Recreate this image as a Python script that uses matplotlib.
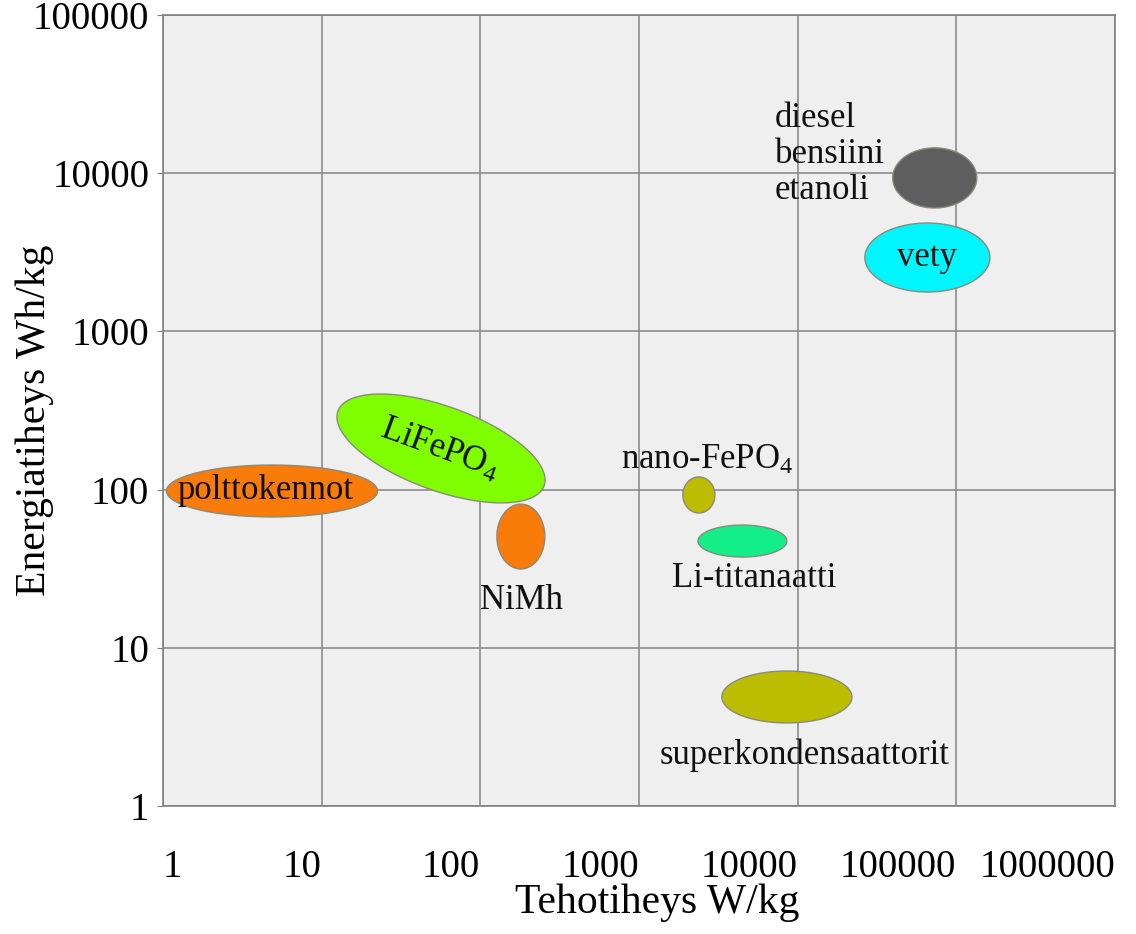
import matplotlib
matplotlib.use('Agg')
import matplotlib.pyplot as plt
import numpy as np

plt.rcParams['font.family'] = ['Liberation Serif', 'DejaVu Serif']
plt.rcParams['mathtext.fontset'] = 'custom'
plt.rcParams['mathtext.rm'] = 'Liberation Serif'
plt.rcParams['mathtext.default'] = 'regular'

# ellipse data: centre (W/kg, Wh/kg), half widths in decades, tilt in degrees
names = ['polttokennot', 'LiFePO4', 'NiMh', 'nano-FePO4', 'Li-titanaatti',
         'superkondensaattorit', 'diesel', 'vety']
center_x = [4.86, 56.5, 180, 2385, 4485, 8550, 73100, 65700]
center_y = [98, 182, 50.5, 92.5, 47.3, 4.89, 9330, 2930]
half_w = [0.665, 0.691, 0.151, 0.101, 0.280, 0.410, 0.265, 0.394]
half_h = [0.164, 0.266, 0.205, 0.114, 0.101, 0.164, 0.190, 0.218]
tilt = [0, -20, 0, 0, 0, 0, 0, 0]
colors = ['#F97C0A', '#7FFF00', '#F97C0A', '#BDBD00', '#14EE88',
          '#BDBD00', '#5E5E5E', '#00F6FF']

# label texts and where they sit
label_text = ['polttokennot', 'LiFePO$_4$', 'NiMh', 'nano-FePO$_4$', 'Li-titanaatti',
              'superkondensaattorit', 'diesel\nbensiini\netanoli', 'vety']
label_x = [4.46, 55.6, 183, 2680, 5300, 11100, 7180, 65200]
label_y = [98, 178, 20, 154, 27.6, 2.1, 13030, 2910]
label_rot = [0, -20, 0, 0, 0, 0, 0, 0]
label_ha = ['center', 'center', 'center', 'center', 'center', 'center', 'left', 'center']

ticks = [1, 10, 100, 1000, 10000, 100000, 1000000]
tick_labels = ['1', '10', '100', '1000', '10000', '100000', '1000000']
yticks = [1, 10, 100, 1000, 10000, 100000]
ytick_labels = ['1', '10', '100', '1000', '10000', '100000']

fig = plt.figure(figsize=(11.36, 9.34), dpi=100)
ax = fig.add_axes([0.1435, 0.137, 0.838, 0.847])
ax.set_facecolor('#EFEFEF')
ax.set_xscale('log')
ax.set_yscale('log')
ax.set_xlim(1, 1e6)
ax.set_ylim(1, 1e5)

t = np.linspace(0, 2 * np.pi, 200)
for i in range(len(names)):
    th = np.radians(tilt[i])
    u = half_w[i] * np.cos(t)
    v = half_h[i] * np.sin(t)
    lx = np.log10(center_x[i]) + u * np.cos(th) - v * np.sin(th)
    ly = np.log10(center_y[i]) + u * np.sin(th) + v * np.cos(th)
    ax.fill(10 ** lx, 10 ** ly, facecolor=colors[i], edgecolor='#8a8a7a',
            linewidth=1, zorder=3)

for i in range(len(label_text)):
    ax.text(label_x[i], label_y[i], label_text[i], fontsize=25, ha=label_ha[i],
            va='center', rotation=label_rot[i], rotation_mode='anchor',
            linespacing=1.12, zorder=4, color='#111111')

ax.set_xticks(ticks)
ax.set_xticklabels(tick_labels, fontsize=28)
ax.set_yticks(yticks)
ax.set_yticklabels(ytick_labels, fontsize=28)
ax.minorticks_off()
for i, lab in enumerate(ax.get_xticklabels()):
    lab.set_horizontalalignment('left' if i == 0 else 'right')
ax.tick_params(axis='x', length=0, pad=31)
ax.tick_params(axis='y', length=4, pad=6, color='#808080')

ax.grid(True, color='#8C8C8C', linewidth=1.2, zorder=1)
ax.set_axisbelow(True)
for s in ax.spines.values():
    s.set_color('#808080')
    s.set_linewidth(1.2)

fig.text(657 / 1136, 1 - 903 / 934, 'Tehotiheys W/kg', fontsize=30,
         ha='center', va='center')
fig.text(35 / 1136, 1 - 420 / 934, 'Energiatiheys Wh/kg', fontsize=30,
         ha='center', va='center', rotation=90)

plt.savefig('out.png', dpi=100)
